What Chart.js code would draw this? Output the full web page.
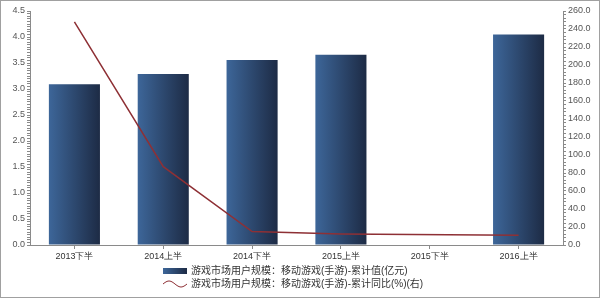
<!DOCTYPE html>
<html>
<head>
<meta charset="utf-8">
<script src="https://cdn.jsdelivr.net/npm/chart.js@4"></script>
<style>
  body { margin: 0; background: #fff; }
  #wrap { position: relative; width: 600px; height: 298px; }
  #legend { position: absolute; left: 163px; top: 264px; font: 10px "Liberation Sans", "Noto Sans CJK SC", sans-serif; color: #333; }
  #legend div { height: 13px; line-height: 13px; white-space: nowrap; }
  #legend canvas { vertical-align: middle; margin-right: 4px; }
</style>
</head>
<body>
<div id="wrap">
  <canvas id="myChart" width="600" height="298"></canvas>
  <div id="legend">
    <div><canvas id="icon1" width="24" height="10"></canvas><span id="lab1"></span></div>
    <div><canvas id="icon2" width="24" height="10"></canvas><span id="lab2"></span></div>
  </div>
</div>
<script>
// categories along the x-axis
var periods = ["2013下半","2014上半","2014下半","2015上半","2015下半","2016上半"];
// bars: cumulative value (left axis)
var userValue = [3.09, 3.29, 3.56, 3.66, null, 4.05];
// line: cumulative YoY % (right axis)
var userGrowth = [248, 87, 15, 12.3, null, 10.7];
var names = ["游戏市场用户规模：移动游戏(手游)-累计值(亿元)", "游戏市场用户规模：移动游戏(手游)-累计同比(%)(右)"];

var lineColor = "#8e3035";
var axisColor = "#8a8a8a";
var tickFont = { family: "Liberation Sans", size: 9 };

function barGradient(ctx, x0, x1) {
  var g = ctx.createLinearGradient(x0, 0, x1, 0);
  g.addColorStop(0, "#3d6699");
  g.addColorStop(1, "#1d2b45");
  return g;
}

// per-bar horizontal gradient + frame around the picture
var decor = {
  id: "decor",
  beforeDatasetsDraw: function(chart) {
    var meta = chart.getDatasetMeta(1);
    meta.data.forEach(function(bar) {
      var w = bar.width;
      var opts = Object.assign({}, bar.options);
      opts.backgroundColor = barGradient(chart.ctx, bar.x - w / 2, bar.x + w / 2);
      bar.options = opts;
    });
  },
  afterDraw: function(chart) {
    var c = chart.ctx;
    c.save();
    c.strokeStyle = "#a0a0a0";
    c.lineWidth = 1;
    c.strokeRect(0.5, 0.5, chart.width - 1, chart.height - 1);
    c.restore();
  }
};

var ctx = document.getElementById("myChart");
var myChart = new Chart(ctx, {
  type: "bar",
  data: {
    labels: periods,
    datasets: [
      {
        type: "line",
        label: names[1],
        data: userGrowth,
        yAxisID: "y1",
        borderColor: lineColor,
        borderWidth: 1.5,
        pointRadius: 0,
        tension: 0,
        spanGaps: true,
        fill: false,
        order: 0
      },
      {
        label: names[0],
        data: userValue,
        yAxisID: "y",
        backgroundColor: "#2c4670",
        barPercentage: 1,
        categoryPercentage: 0.575,
        order: 1
      }
    ]
  },
  options: {
    responsive: false,
    animation: false,
    layout: { padding: { top: 11, bottom: 33, left: 0, right: 0 } },
    plugins: { legend: { display: false }, tooltip: { enabled: false } },
    scales: {
      x: {
        grid: { offset: false, drawOnChartArea: false, color: axisColor, tickLength: 4 },
        border: { color: axisColor },
        ticks: { font: tickFont, color: "#333", padding: 2, maxRotation: 0 },
        afterFit: function(s) { s.height = 20; }
      },
      y: {
        position: "left",
        min: 0,
        max: 4.5,
        grid: { drawOnChartArea: false, color: axisColor, tickLength: 3 },
        border: { color: axisColor },
        ticks: {
          stepSize: 0.05,
          autoSkip: false,
          font: tickFont,
          color: "#555",
          padding: 2,
          callback: function(v) {
            var k = v / 0.5;
            return Math.abs(k - Math.round(k)) < 1e-6 ? v.toFixed(1) : "";
          }
        },
        afterFit: function(s) { s.width = 30; }
      },
      y1: {
        position: "right",
        min: 0,
        max: 260,
        grid: { drawOnChartArea: false, color: axisColor, tickLength: 3 },
        border: { color: axisColor },
        ticks: {
          stepSize: 4,
          autoSkip: false,
          font: tickFont,
          color: "#555",
          padding: 2,
          callback: function(v) {
            return Math.round(v) % 20 === 0 ? v.toFixed(1) : "";
          }
        },
        afterFit: function(s) { s.width = 37; }
      }
    }
  },
  plugins: [decor]
});

// legend
document.getElementById("lab1").textContent = names[0];
document.getElementById("lab2").textContent = names[1];
var i1 = document.getElementById("icon1").getContext("2d");
i1.fillStyle = barGradient(i1, 0, 24);
i1.fillRect(0, 2, 24, 6);
var i2 = document.getElementById("icon2").getContext("2d");
i2.strokeStyle = lineColor;
i2.lineWidth = 1;
i2.beginPath();
for (var px = 0; px <= 24; px++) {
  var py = 5 - 3 * Math.sin(px / 24 * Math.PI * 2);
  if (px === 0) i2.moveTo(px, py); else i2.lineTo(px, py);
}
i2.stroke();
</script>
</body>
</html>
